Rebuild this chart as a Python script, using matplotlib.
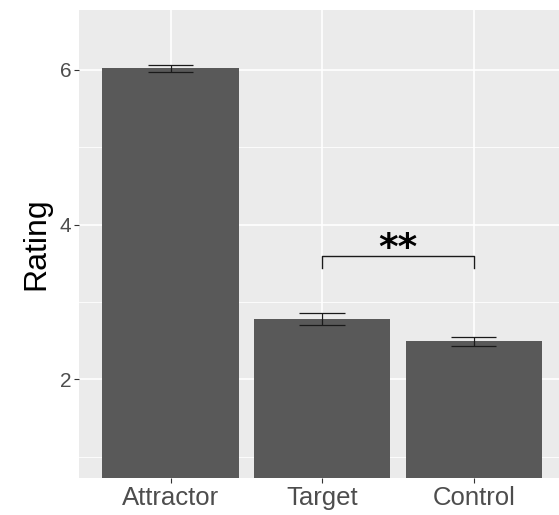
import matplotlib
matplotlib.use("Agg")
import matplotlib.pyplot as plt
import numpy as np

plt.rcParams['font.family'] = ['Liberation Sans', 'DejaVu Sans']

categories = ["Attractor", "Target", "Control"]
means = [6.02, 2.78, 2.49]
errors = [0.05, 0.075, 0.06]
yticks = [2, 4, 6]
yminor = [1, 3, 5]
sig_pair = (1, 2)          # indices of Target, Control
sig_label = "**"
sig_y = 3.60
sig_drop = 0.16

fig = plt.figure(figsize=(5.59, 5.15), dpi=100)
ax = fig.add_axes([79/559, 37/515, 1 - 79/559, 468/515])
ax.set_facecolor('#EBEBEB')

x = np.arange(1, len(categories) + 1)
ax.set_xlim(0.395, 3.563)
ax.set_ylim(0.725, 6.775)

# grid
for v in yminor:
    ax.axhline(v, color='white', lw=0.6, zorder=0)
for v in yticks:
    ax.axhline(v, color='white', lw=1.2, zorder=0)
for xi in x:
    ax.axvline(xi, color='white', lw=1.2, zorder=0)

ax.bar(x, means, width=0.9, color='#595959', zorder=2)

# error bars
lo = np.array(means) - np.array(errors)
hi = np.array(means) + np.array(errors)
ax.vlines(x, lo, hi, color='#1a1a1a', lw=0.9, zorder=3)
ax.hlines(lo, x - 0.15, x + 0.15, color='#1a1a1a', lw=0.9, zorder=3)
ax.hlines(hi, x - 0.15, x + 0.15, color='#1a1a1a', lw=0.9, zorder=3)

# significance bracket
x1, x2 = x[sig_pair[0]], x[sig_pair[1]]
ax.plot([x1, x1, x2, x2], [sig_y - sig_drop, sig_y, sig_y, sig_y - sig_drop],
        color='#1a1a1a', lw=1.0, zorder=3)
ax.text((x1 + x2) / 2, sig_y - 0.04, sig_label, ha='center', va='baseline',
        fontsize=27, fontweight='bold', family='DejaVu Sans', color='black', zorder=4)

for s in ax.spines.values():
    s.set_visible(False)

ax.set_xticks(x)
ax.set_xticklabels(categories)
ax.set_yticks(yticks)
ax.set_yticklabels([str(v) for v in yticks])
ax.tick_params(axis='x', labelsize=18.5, colors='#333333', labelcolor='#4D4D4D',
               length=3.5, width=0.8, pad=2)
ax.tick_params(axis='y', labelsize=15, colors='#333333', labelcolor='#4D4D4D',
               length=3.5, width=0.8, pad=2)
ax.set_ylabel("Rating", fontsize=23, color='black', labelpad=6)

fig.savefig("out.png", dpi=100)
